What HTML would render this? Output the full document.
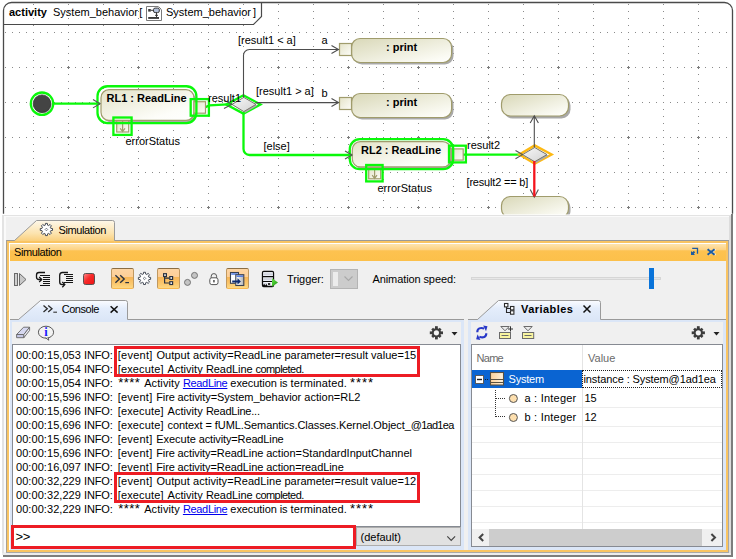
<!DOCTYPE html>
<html>
<head>
<meta charset="utf-8">
<title>Simulation</title>
<style>
html,body{margin:0;padding:0;background:#fff;}
body{width:736px;height:559px;position:relative;overflow:hidden;font-family:"Liberation Sans",sans-serif;font-size:11px;color:#000;}
#diagram{position:absolute;left:0;top:0;width:736px;height:215px;display:block;}
#diagram text{font-family:"Liberation Sans",sans-serif;font-size:11px;fill:#000;}
.abs{position:absolute;}
</style>
</head>
<body>
<!-- ================= DIAGRAM ================= -->
<svg id="diagram" width="736" height="215" viewBox="0 0 736 215">
  <defs>
    <pattern id="grid" x="33" y="32" width="35" height="35" patternUnits="userSpaceOnUse">
      <g fill="#8a8a8a">
        <rect x="0" y="0" width="1" height="1"/><rect x="7" y="0" width="1" height="1"/><rect x="14" y="0" width="1" height="1"/><rect x="21" y="0" width="1" height="1"/><rect x="28" y="0" width="1" height="1"/>
        <rect x="0" y="7" width="1" height="1"/><rect x="0" y="14" width="1" height="1"/><rect x="0" y="21" width="1" height="1"/><rect x="0" y="28" width="1" height="1"/>
      </g>
    </pattern>
    <pattern id="cross" x="33" y="32" width="70" height="70" patternUnits="userSpaceOnUse">
      <g fill="#7a7a7a">
        <rect x="34" y="35" width="3" height="1"/><rect x="35" y="34" width="1" height="3"/>
      </g>
    </pattern>
    <clipPath id="frameclip"><path d="M4 214V10.500000000000002A7 7 0 0 1 11 3.5H725A7 7 0 0 1 732 10.5V214Z"/></clipPath>
    <linearGradient id="gnode" x1="0" y1="0" x2="1" y2="1">
      <stop offset="0" stop-color="#e4e3c8"/><stop offset="0.75" stop-color="#fdfdf9"/><stop offset="1" stop-color="#ffffff"/>
    </linearGradient>
    <linearGradient id="gprint" x1="0" y1="0" x2="1" y2="1">
      <stop offset="0" stop-color="#d9d8b8"/><stop offset="0.85" stop-color="#fbfbf4"/><stop offset="1" stop-color="#ffffff"/>
    </linearGradient>
    <linearGradient id="gpin" x1="0" y1="0" x2="1" y2="1">
      <stop offset="0" stop-color="#e4e3c8"/><stop offset="1" stop-color="#fdfdf9"/>
    </linearGradient>
    <linearGradient id="gdia" x1="0" y1="0" x2="1" y2="1">
      <stop offset="0" stop-color="#f8f8f8"/><stop offset="1" stop-color="#d2d2d2"/>
    </linearGradient>
  </defs>
  <rect x="0" y="0" width="736" height="215" fill="#fff"/>
  <g clip-path="url(#frameclip)">
    <rect x="0" y="0" width="736" height="214.4" fill="url(#grid)"/>
    <rect x="0" y="0" width="736" height="214" fill="url(#cross)"/>
  </g>
  <!-- frame -->
  <path d="M3.5 213.8V10.5A8 8 0 0 1 11.500000000000002 2.5H724.5A8 8 0 0 1 732.5 10.5V213.8" fill="none" stroke="#4a4a4a" stroke-width="1.3"/>
  <path d="M3.5 24.5H253.5L261.5 16.5V2.5" fill="none" stroke="#4a4a4a" stroke-width="1.2"/>
  <!-- header text -->
  <text x="9" y="15.8" font-weight="bold">activity</text>
  <text x="53" y="15.8">System_behavior</text>
  <text x="139.3" y="15.5">[</text>
  <g id="hdricon" transform="translate(146,6)">
    <path d="M0.5 0.500000000000001H12.5L15.5 3.500000000000001V14.5H0.5Z" fill="#fff" stroke="#7a7a7a" stroke-width="1"/>
    <path d="M12.5 0.500000000000001V3.500000000000001H15.5" fill="none" stroke="#c8c8c8" stroke-width="0.8"/>
    <rect x="2.2" y="3" width="2.6" height="2.6" fill="#3a3a3a"/>
    <path d="M4.8 4.3H7.5" stroke="#3a3a3a" stroke-width="1"/>
    <rect x="7.5" y="2.1" width="5.8" height="4.5" rx="1.6" fill="#b4c2dc" stroke="#3a3a3a" stroke-width="1"/>
    <path d="M10.5 6.6V11M9 9.300000000000001H12" stroke="#3a3a3a" stroke-width="1" fill="none"/>
    <rect x="2.2" y="11" width="10.8" height="1.9" fill="#3a3a3a"/>
  </g>
  <text x="166" y="15.8">System_behavior</text>
  <text x="253" y="15.5">]</text>

  <!-- ===== edges ===== -->
  <g fill="none" stroke="#0af80a" stroke-width="2.3">
    <path d="M54 103.7H100"/>
    <path d="M204.5 107.6L209.500000 105.3L232 104.2"/>
    <path d="M243.5 112V149A6 6 0 0 0 249.5 155H352"/>
    <path d="M463 154.6H523"/>
  </g>
  <!-- ===== initial node ===== -->
  <circle cx="42" cy="103.7" r="11.2" fill="#fff" stroke="#0af80a" stroke-width="2.3"/>
  <circle cx="43" cy="104.7" r="8.6" fill="#aaa"/>
  <circle cx="42" cy="103.7" r="8.8" fill="#444" stroke="#333" stroke-width="0.8"/>

  <!-- ===== RL1 ===== -->
  <rect x="103" y="92" width="93" height="30.3" rx="8" fill="#a9a9a9"/>
  <rect x="101" y="89.7" width="93" height="30.6" rx="8" fill="url(#gnode)" stroke="#a09c6c" stroke-width="1.2"/>
  <text x="106.5" y="101.6" font-weight="bold">RL1 : ReadLine</text>
  <rect x="194" y="101.7" width="11.5" height="11.5" fill="url(#gpin)" stroke="#a09c6c" stroke-width="1.2"/>
  <rect x="116.7" y="121" width="12" height="11" fill="url(#gpin)" stroke="#a09c6c" stroke-width="1.2"/>
  <path d="M122.6 121V131.5M120.2 128.3L122.600000 131.6L125 128.3" fill="none" stroke="#a09c6c" stroke-width="1.2"/>
  <rect x="97.5" y="86.25" width="98.9" height="36.85" rx="10" fill="none" stroke="#0af80a" stroke-width="2.3"/>
  <rect x="190.7" y="99.1" width="18.2" height="16.6" fill="none" stroke="#0af80a" stroke-width="2.3"/>
  <rect x="113.4" y="117.5" width="18.2" height="17.4" fill="none" stroke="#0af80a" stroke-width="2.3"/>
  <text x="125.5" y="144.5">errorStatus</text>

  <!-- ===== diamond 1 ===== -->
  <path d="M226.3 104.4L243.4 95.3L260.5 104.4L243.4 113.6Z" fill="none" stroke="#0af80a" stroke-width="2.3" stroke-linejoin="miter"/>
  <path d="M233.5 105.6L245.300000 98.5L257.5 105.6L245.3 112.8Z" fill="#aaa"/>
  <path d="M232 104.4L243.8 97.4L256 104.4L243.8 111.6Z" fill="url(#gdia)" stroke="#77756a" stroke-width="1"/>

  <text x="238" y="43.9">[result1 &lt; a]</text>
  <text x="321.5" y="43.5">a</text>
  <text x="256" y="94.8">[result1 &gt; a]</text>
  <text x="321.5" y="96.7">b</text>
  <text x="263.5" y="150">[else]</text>

  <!-- ===== print a ===== -->
  <rect x="353.5" y="40.5" width="100" height="24" rx="8.5" fill="#a9a9a9"/>
  <rect x="351.6" y="38.5" width="100" height="24" rx="8.5" fill="url(#gprint)" stroke="#a09c6c" stroke-width="1.2"/>
  <rect x="339.5" y="43.5" width="12" height="12" fill="url(#gpin)" stroke="#a09c6c" stroke-width="1.2"/>
  <text x="386" y="51.2" font-weight="bold">: print</text>
  <!-- ===== print b ===== -->
  <rect x="353.5" y="95.5" width="100" height="24" rx="8.5" fill="#a9a9a9"/>
  <rect x="351.6" y="93.5" width="100" height="24" rx="8.5" fill="url(#gprint)" stroke="#a09c6c" stroke-width="1.2"/>
  <rect x="339.5" y="97.5" width="12" height="12" fill="url(#gpin)" stroke="#a09c6c" stroke-width="1.2"/>
  <text x="386" y="106.2" font-weight="bold">: print</text>

  <!-- ===== RL2 ===== -->
  <rect x="354.3" y="144" width="98.5" height="25.2" rx="8" fill="#a9a9a9"/>
  <rect x="352.3" y="141.7" width="98.5" height="25.2" rx="8" fill="url(#gnode)" stroke="#a09c6c" stroke-width="1.2"/>
  <text x="361" y="154" font-weight="bold">RL2 : ReadLine</text>
  <rect x="452" y="148.9" width="11.2" height="11.2" fill="url(#gpin)" stroke="#a09c6c" stroke-width="1.2"/>
  <rect x="368.7" y="167.8" width="12" height="11" fill="url(#gpin)" stroke="#a09c6c" stroke-width="1.2"/>
  <path d="M374.6 168V178.3M372.2 175.1L374.6 178.4L377 175.1" fill="none" stroke="#a09c6c" stroke-width="1.2"/>
  <rect x="349.8" y="139.2" width="103.4" height="30" rx="10" fill="none" stroke="#0af80a" stroke-width="2.3"/>
  <rect x="449" y="145.7" width="16.9" height="16.7" fill="none" stroke="#0af80a" stroke-width="2.3"/>
  <rect x="366.2" y="165" width="16.4" height="16.4" fill="none" stroke="#0af80a" stroke-width="2.3"/>
  <text x="377.5" y="192">errorStatus</text>
  <text x="467" y="149">result2</text>
  <text x="466.5" y="186" letter-spacing="-0.18">[result2 == b]</text>

  <!-- ===== boxes right ===== -->
  <rect x="503.5" y="96.5" width="67" height="22" rx="9" fill="#a9a9a9"/>
  <rect x="501.5" y="94.5" width="67" height="21.5" rx="9" fill="url(#gprint)" stroke="#a09c6c" stroke-width="1.2"/>
  <rect x="503.5" y="198.5" width="67" height="21.5" rx="9" fill="#a9a9a9"/>
  <rect x="501.5" y="196.5" width="67" height="21.5" rx="9" fill="url(#gprint)" stroke="#a09c6c" stroke-width="1.2"/>

  <!-- ===== diamond 2 ===== -->
  <path d="M519.3 154.6L534.7 145.4L551.7 154.6L534.7 163.8Z" fill="none" stroke="#fdb913" stroke-width="2.3"/>
  <path d="M524 155.8L536.2 148.7L548.5 155.8L536.2 162.9Z" fill="#aaa"/>
  <path d="M522.5 154.6L534.7 147.500000L547 154.6L534.7 161.7Z" fill="url(#gdia)" stroke="#77756a" stroke-width="1"/>
  <!-- gray edges on top -->
  <g fill="none" stroke="#4d4d4d" stroke-width="1.1">
    <path d="M243.5 97.5V56A6 6 0 0 1 249.5 49.500000000000006H338.5"/>
    <path d="M331.5 45.5L338.5 49.500000000000006L331.5 53.5"/>
    <path d="M255.5 102.6H338.5"/>
    <path d="M331.5 98.6L338.5 102.6L331.5 106.6"/>
    <path d="M534.3 147.5V116"/>
    <path d="M530.2 123L534.3 115.800000L538.4 123"/>
  </g>
  <g fill="none" stroke="#555" stroke-width="1.1">
    <path d="M93 99.5L100 103.7L93 107.9"/>
    <path d="M224.5 100.5L232 104.2L224 108.4"/>
    <path d="M345 151L352 155L345 159"/>
    <path d="M515.5 150.5L522.5 154.6L515.5 158.7"/>
    <path d="M530.2 189.5L534.3 197L538.4 189.5"/>
  </g>

  <text x="208" y="102">result1</text>
  <path d="M534.3 161V196.5" fill="none" stroke="#f5141c" stroke-width="2.3"/>
  <!-- cover bottom strip -->
  <rect x="0" y="214.4" width="736" height="1" fill="#fff"/>
  
</svg>

<!-- ================= PANEL ================= -->
<div id="panel">
<style>
#panel{position:absolute;left:0;top:0;width:736px;height:559px;pointer-events:none;}
#panel div,#panel span,#panel svg{position:absolute;}
.t{white-space:nowrap;font-size:11px;line-height:14px;height:14px;}
.ln{left:16px;white-space:nowrap;font-size:11px;line-height:14px;height:14px;letter-spacing:-0.12px;}
.ln span{position:static !important;}
.ln .lk{color:#0000ee;text-decoration:underline;}
#panel .sg{white-space:pre;font-size:11px;line-height:14px;height:14px;}
#panel .sg.lk{color:#0000ee;text-decoration:underline;}
.tog{border:1px solid;border-color:#8c6e44 #c09860 #f9b84e #c09860;border-radius:2px;background:linear-gradient(#fdd4a2 0%,#fdcf98 40%,#f7b657 43%,#fbc66c 75%,#fdd882 100%);box-sizing:border-box;}
</style>
<!-- panel background & bevel -->
<div style="left:2px;top:215px;width:731px;height:340px;background:#f0f0f0;"></div>
<div style="left:2px;top:215px;width:729px;height:1px;background:#e3e3e3;"></div>
<div style="left:2px;top:215px;width:2px;height:338px;background:#e3e3e3;"></div>
<div style="left:4px;top:216px;width:725px;height:1px;background:#fafafa;"></div>
<div style="left:4px;top:216px;width:2px;height:336px;background:#fafafa;"></div>
<div style="left:729px;top:216px;width:2px;height:338px;background:#dcdcdc;"></div>
<div style="left:731px;top:214px;width:2px;height:343px;background:#7d7d7d;"></div>
<div style="left:733px;top:214px;width:3px;height:345px;background:#fff;"></div>

<div style="left:2px;top:553px;width:729px;height:2px;background:#ececec;"></div>
<div style="left:3px;top:555px;width:730px;height:2px;background:#7d7d7d;"></div>
<div style="left:0;top:557px;width:736px;height:2px;background:#fff;"></div>

<!-- orange frame -->
<div style="left:6px;top:240px;width:723px;height:313px;background:#a8a8a8;"></div><div style="left:7px;top:241px;width:721px;height:311px;background:#f9c462;"></div>
<div style="left:6px;top:240px;width:723px;height:1px;background:#9a9a9a;"></div>
<div style="left:6px;top:240px;width:1px;height:312px;background:#a8a090;"></div>
<div style="left:9px;top:243px;width:717px;height:307px;background:#fff;"></div>
<div style="left:10px;top:244px;width:716px;height:306px;background:#f0f0f0;"></div>
<!-- title bar -->
<div style="left:10px;top:244px;width:716px;height:17px;background:linear-gradient(#fee4ae 0%,#fdd282 34%,#fdc250 40%,#fcc04a 100%);"></div>
<div class="t" id="ttl" style="left:14px;top:245px;letter-spacing:-0.4px;">Simulation</div>
<!-- title buttons -->
<svg style="left:688px;top:246px;" width="28" height="12" viewBox="0 0 28 12">
  <path d="M4.2 2.400000000000001H9.5V7.700000000000001" fill="none" stroke="#1c5aa0" stroke-width="1.3"/>
  <path d="M3 9V5L4.3 6.300000000000001L5.8 4.900000000000001L7.2 6.300000000000001L5.8 7.700000000000001L7 9Z" fill="#1c5aa0"/>
  <path d="M20.500000 3.3L27.6 8.8M27.6 3.3L20.5 8.8" stroke="#ffffff" stroke-width="1.6" fill="none" opacity="0.8"/>
  <path d="M19.6 3.3L26.6 8.8M26.6 3.3L19.6 8.8" stroke="#1c5aa0" stroke-width="2" fill="none"/>
</svg>

<!-- main tab -->
<svg style="left:10px;top:218px;" width="110" height="27" viewBox="10 218 110 27">
  <defs><linearGradient id="gtab" x1="0" y1="0" x2="0" y2="1"><stop offset="0" stop-color="#fef8ea"/><stop offset="0.55" stop-color="#fce3ae"/><stop offset="1" stop-color="#f9c768"/></linearGradient></defs>
  <path d="M14.5 240.5L36.5 220.5H112.5Q114.5 220.5 114.5 222.5V240.5V244H10V240.5Z" fill="url(#gtab)"/>
  <path d="M10 240.5H14.5L36.5 220.5H112.5Q114.5 220.5 114.5 222.5V240.5" fill="none" stroke="#9a9a9a" stroke-width="1"/>
  <path d="M10 241H114V243H10Z" fill="#f9c462"/><path d="M10 243H115V244H10Z" fill="#fff"/>
  <g transform="translate(46.4,229.5)"><path d="M-1.16 -4.35L-0.97 -6.12L0.97 -6.12L1.16 -4.35L2.25 -3.90L3.64 -5.02L5.02 -3.64L3.90 -2.25L4.35 -1.16L6.12 -0.97L6.12 0.97L4.35 1.16L3.90 2.25L5.02 3.64L3.64 5.02L2.25 3.90L1.16 4.35L0.97 6.12L-0.97 6.12L-1.16 4.35L-2.25 3.90L-3.64 5.02L-5.02 3.64L-3.90 2.25L-4.35 1.16L-6.12 0.97L-6.12 -0.97L-4.35 -1.16L-3.90 -2.25L-5.02 -3.64L-3.64 -5.02L-2.25 -3.90Z" fill="#fff" stroke="#444a56" stroke-width="1" stroke-linejoin="miter"/><path d="M0 -1.3L1.3 0L0 1.3L-1.3 0Z" fill="none" stroke="#444a56" stroke-width="0.7"/></g>
</svg>
<div class="t" id="tabt" style="left:58.5px;top:223px;letter-spacing:-0.4px;">Simulation</div>

<!-- toolbar icons -->
<svg style="left:10px;top:262px;" width="360" height="32" viewBox="10 262 360 32">
  <!-- resume -->
  <rect x="14.5" y="273.5" width="3" height="12" fill="#d0d0d0" stroke="#6a6a6a" stroke-width="1"/>
  <path d="M19.5 273.5L26 279.5L19.5 285.5Z" fill="#c8c8c8" stroke="#6a6a6a" stroke-width="1"/>
  <!-- step into -->
  <g stroke="#151515" stroke-width="1.1" fill="none">
    <path d="M40 275.5H50M43 277.5H50M43 279.5H50M43 281.5H50M43 283.5H50M40 285.5H50"/>
    <path d="M45 272.5H39Q36.5 272.5 36.5 275V277Q36.5 279.5 39 279.5H41.5" stroke-width="1.3"/>
    <path d="M39.2 277L41.7 279.5L39.2 282" stroke-width="1.3"/>
  </g>
  <!-- step over -->
  <g stroke="#151515" stroke-width="1.1" fill="none">
    <path d="M64 274.5H73M66 276.5H73M66 278.5H73M66 280.5H73M64 282.5H73"/>
    <path d="M68 272.5H62.5Q59.7 272.5 59.7 275.500000V282Q59.7 284.6 62.3 284.6H64.5" stroke-width="1.3"/>
    <path d="M62.3 282L64.8 284.6L62.3 287.2" stroke-width="1.3"/>
  </g>
  <!-- stop -->
  <defs><linearGradient id="gstop" x1="0" y1="0" x2="1" y2="1"><stop offset="0" stop-color="#ff8a8a"/><stop offset="0.45" stop-color="#f62a2a"/><stop offset="1" stop-color="#ee1010"/></linearGradient></defs>
  <rect x="83.5" y="273.5" width="11" height="11" rx="2" fill="url(#gstop)" stroke="#5a5050" stroke-width="1"/>
</svg>
<div class="tog" style="left:111px;top:268px;width:23px;height:21px;"></div>
<div class="tog" style="left:157px;top:268px;width:23px;height:21px;"></div>
<div class="tog" style="left:226px;top:268px;width:23px;height:21px;"></div>
<svg style="left:110px;top:262px;" width="260" height="32" viewBox="110 262 260 32">
  <!-- >>_ -->
  <path d="M115.4 275.2L119.4 279L115.4 282.8M120.2 275.2L124.2 279L120.2 282.8" stroke="#2a3240" stroke-width="1.4" fill="none"/>
  <path d="M125.3 282.6H129" stroke="#2a3240" stroke-width="1.2"/>
  <!-- gear -->
  <g transform="translate(144.5,278.4)"><path d="M-1.16 -4.35L-0.97 -6.12L0.97 -6.12L1.16 -4.35L2.25 -3.90L3.64 -5.02L5.02 -3.64L3.90 -2.25L4.35 -1.16L6.12 -0.97L6.12 0.97L4.35 1.16L3.90 2.25L5.02 3.64L3.64 5.02L2.25 3.90L1.16 4.35L0.97 6.12L-0.97 6.12L-1.16 4.35L-2.25 3.90L-3.64 5.02L-5.02 3.64L-3.90 2.25L-4.35 1.16L-6.12 0.97L-6.12 -0.97L-4.35 -1.16L-3.90 -2.25L-5.02 -3.64L-3.64 -5.02L-2.25 -3.90Z" fill="#fff" stroke="#444a56" stroke-width="1" stroke-linejoin="miter"/><path d="M0 -1.3L1.3 0L0 1.3L-1.3 0Z" fill="none" stroke="#444a56" stroke-width="0.7"/></g>
  <!-- tree -->
  <g fill="#fff" stroke="#2a3240" stroke-width="1.2">
    <path d="M164.6 277V283H169.5M164.6 278.1H169.5" fill="none"/>
    <rect x="163.6" y="273.7" width="2.8" height="2.8"/>
    <rect x="169.8" y="276.6" width="2.8" height="2.8"/>
    <rect x="169.8" y="281.7" width="2.8" height="2.8"/>
  </g>
  <!-- dots -->
  <circle cx="194.5" cy="275.4" r="3" fill="#c4c4c4" stroke="#6a6a6a" stroke-width="0.9"/>
  <circle cx="187.5" cy="282.4" r="3" fill="#c4c4c4" stroke="#6a6a6a" stroke-width="0.9"/>
  <!-- lock -->
  <path d="M211.2 278V276.2Q211.2 273.6 213.9 273.6Q216.6 273.6 216.600000 276.2V278" fill="none" stroke="#555" stroke-width="1"/>
  <rect x="209.8" y="277.8" width="8.2" height="6.8" rx="2" fill="#fff" stroke="#555" stroke-width="1"/>
  <rect x="213.3" y="280" width="1.3" height="2.4" fill="#333"/>
  <!-- windows icon -->
  <defs><linearGradient id="gwin" x1="0" y1="0" x2="1" y2="0"><stop offset="0" stop-color="#ffffff"/><stop offset="1" stop-color="#b4b4b4"/></linearGradient></defs>
  <rect x="230.5" y="272.5" width="8" height="10.8" fill="#fff" stroke="#3a4050" stroke-width="1.1"/>
  <rect x="231.2" y="273.2" width="6.6" height="1.6" fill="#5a80e0"/>
  <rect x="235.8" y="274.7" width="8" height="10.8" fill="url(#gwin)" stroke="#3a4050" stroke-width="1.1"/>
  <rect x="236.500000" y="275.4" width="6.6" height="1.6" fill="#5a80e0"/>
  <path d="M232.2 280.4H237.5V278.2L240.9 281.4L237.5 284.6V282.5H232.2Z" fill="#0c2a70"/>
  <!-- server -->
  <defs><linearGradient id="gsrv" x1="0" y1="0" x2="0" y2="1"><stop offset="0" stop-color="#fbfcff"/><stop offset="0.5" stop-color="#c6cad6"/><stop offset="1" stop-color="#f4f6fb"/></linearGradient>
  <linearGradient id="ggrn" x1="0" y1="0" x2="1" y2="1"><stop offset="0" stop-color="#6be84a"/><stop offset="1" stop-color="#15900c"/></linearGradient></defs>
  <rect x="262.5" y="271.5" width="11" height="15" rx="1.2" fill="#f2f4f8" stroke="#0c0c0c" stroke-width="1.3"/>
  <rect x="263.3" y="272.3" width="9.4" height="3.7" fill="url(#gsrv)"/>
  <rect x="263.3" y="277.2" width="9.4" height="3.700000" fill="url(#gsrv)"/>
  <path d="M262.5 276.6H273.5M262.5 281.5H273.5" stroke="#0c0c0c" stroke-width="1.1" fill="none"/>
  <path d="M263 286.300000V285L264.300000 283.8L265.3 285.6L266.3 283.8L267.3 285.6V286.3Z" fill="#0c0c0c"/>
  <path d="M263.300000 283.600000H267.5" stroke="#c6cad6" stroke-width="0.8"/>
  <rect x="268" y="283" width="2.2" height="2" fill="#333"/>
  <path d="M272 278.2L278 282.5L272 286.8Z" fill="url(#ggrn)"/>
</svg>
<div class="t" id="trig" style="left:287px;top:272px;letter-spacing:-0.1px;">Trigger:</div>
<div style="left:330px;top:269px;width:28px;height:20px;box-sizing:border-box;background:#cccccc;border:1px solid #b4b4b4;"></div>
<div style="left:333px;top:272px;width:5px;height:14px;background:#ececec;"></div>
<svg style="left:343px;top:275px;" width="12" height="8" viewBox="0 0 12 8"><path d="M1.5 1.500000000000001L5.5 5.500000000000001L9.5 1.500000000000001" fill="none" stroke="#a8a8a8" stroke-width="1.1"/></svg>
<div class="t" id="anim" style="left:372.5px;top:272px;letter-spacing:-0.1px;">Animation speed:</div>
<div style="left:471px;top:277px;width:190px;height:3px;box-sizing:border-box;background:#e7e7e7;border:1px solid #d6d6d6;"></div>
<div style="left:649px;top:268px;width:5px;height:21px;background:#0a74da;"></div>

<!-- console panel -->
<div style="left:10px;top:319px;width:454px;height:231px;background:#dbe6f7;"></div>
<div style="left:10px;top:319px;width:454px;height:1px;background:#9a9a9a;"></div>
<div style="left:12px;top:322px;width:449px;height:22px;background:#f0f0f0;"></div>
<div style="left:12px;top:344px;width:449px;height:183px;box-sizing:border-box;background:#fff;border:1px solid #868a92;"></div>
<svg style="left:14px;top:296px;" width="120" height="27" viewBox="14 296 120 27">
  <defs><linearGradient id="gtab2" x1="0" y1="0" x2="0" y2="1"><stop offset="0" stop-color="#fbfcff"/><stop offset="0.4" stop-color="#e4edfb"/><stop offset="1" stop-color="#dbe6f7"/></linearGradient></defs>
  <path d="M18.5 319.5L40.5 300.5H125.500000Q127.5 300.5 127.5 302.5V319.5V320H18Z" fill="url(#gtab2)"/>
  <path d="M14 319.5H18.5L40.5 300.5H125.5Q127.5 300.5 127.5 302.5V319.5" fill="none" stroke="#9a9a9a" stroke-width="1"/>
  <path d="M43.5 305.5L47.3 308.800000L43.5 312.1M48.2 305.5L52 308.8L48.2 312.1" stroke="#2a2a2a" stroke-width="1.3" fill="none"/>
  <path d="M53.3 312.2H57" stroke="#333" stroke-width="1.1"/>
  <path d="M110.6 306.2L117.6 312.6M117.6 306.2L110.600000 312.6" stroke="#111" stroke-width="1.5" fill="none"/>
</svg>
<div class="t" id="cons" style="left:61.7px;top:302px;letter-spacing:-0.45px;">Console</div>
<svg style="left:12px;top:322px;" width="449" height="22" viewBox="12 322 449 22">
  <!-- eraser -->
  <path d="M16.6 334.5L23.6 327.2H29.6L23.9 334.5Z" fill="#d6d8f0" stroke="#666" stroke-width="0.9" stroke-linejoin="round"/>
  <path d="M16.6 334.5H23.9V337.7H16.6Z" fill="#c6c8e6" stroke="#666" stroke-width="0.9" stroke-linejoin="round"/>
  <path d="M23.9 334.5L29.6 327.2V330.4L23.9 337.7Z" fill="#ececf6" stroke="#666" stroke-width="0.9" stroke-linejoin="round"/>
  <!-- info -->
  <ellipse cx="46" cy="332.2" rx="7.6" ry="6" fill="#f3f3f3" stroke="#5a5a5a" stroke-width="1"/>
  <path d="M45.5 337.800000L48.8 340.2L48 337" fill="#f3f3f3" stroke="#5a5a5a" stroke-width="1"/>
  <text x="46.100000" y="336.2" text-anchor="middle" font-family="Liberation Serif,serif" font-weight="bold" font-size="12.5" fill="#1c1cff">i</text>
  <!-- gear -->
  <g transform="translate(436.4,332.8)" fill="#3c3c3c">
    <circle r="4.6"/>
    <g id="teeth"><rect x="-1.4" y="-6.6" width="2.8" height="13.2"/><rect x="-6.6" y="-1.4" width="13.2" height="2.8"/>
    <rect x="-1.3" y="-6" width="2.6" height="12" transform="rotate(45)"/><rect x="-1.3" y="-6" width="2.6" height="12" transform="rotate(-45)"/></g>
    <circle r="2.6" fill="#f4f4f4"/>
  </g>
  <path d="M451.5 332L457.5 332L454.5 335.5Z" fill="#222"/>
</svg>
<!--CL-->
<span class="sg" style="left:16.00px;top:348px;letter-spacing:0.062px;">00:00:15,053 </span><span class="sg" style="left:84.10px;top:348px;letter-spacing:-0.161px;">INFO:</span><span class="sg" style="left:117.70px;top:348px;letter-spacing:0.265px;">[event] </span><span class="sg" style="left:156.40px;top:348px;letter-spacing:0.075px;">Output </span><span class="sg" style="left:193.00px;top:348px;letter-spacing:0.072px;">activity=ReadLine </span><span class="sg" style="left:284.50px;top:348px;letter-spacing:-0.001px;">parameter=result </span><span class="sg" style="left:371.00px;top:348px;letter-spacing:0.033px;">value=15</span>
<span class="sg" style="left:16.00px;top:362px;letter-spacing:0.062px;">00:00:15,054 </span><span class="sg" style="left:84.10px;top:362px;letter-spacing:-0.161px;">INFO:</span><span class="sg" style="left:117.70px;top:362px;letter-spacing:0.160px;">[execute] </span><span class="sg" style="left:167.50px;top:362px;letter-spacing:0.055px;">Activity </span><span class="sg" style="left:205.90px;top:362px;letter-spacing:-0.062px;">ReadLine </span><span class="sg" style="left:255.50px;top:362px;letter-spacing:-0.562px;">completed.</span>
<span class="sg" style="left:16.00px;top:376px;letter-spacing:0.062px;">00:00:15,054 </span><span class="sg" style="left:84.10px;top:376px;letter-spacing:-0.161px;">INFO:</span><span class="sg" style="left:118.30px;top:376px;letter-spacing:0.410px;font-size:13px;">**** </span><span class="sg" style="left:144.20px;top:376px;letter-spacing:0.088px;">Activity </span><span class="sg lk" style="left:182.90px;top:376px;letter-spacing:-0.324px;">ReadLine</span><span class="sg" style="left:227.40px;top:376px;letter-spacing:-0.079px;"> execution is </span><span class="sg" style="left:290.50px;top:376px;letter-spacing:0.117px;">terminated. </span><span class="sg" style="left:350.00px;top:376px;letter-spacing:0.920px;font-size:13px;">****</span>
<span class="sg" style="left:16.00px;top:390px;letter-spacing:0.062px;">00:00:15,596 </span><span class="sg" style="left:84.10px;top:390px;letter-spacing:-0.161px;">INFO:</span><span class="sg" style="left:117.70px;top:390px;letter-spacing:0.253px;">[event] </span><span class="sg" style="left:156.30px;top:390px;letter-spacing:-0.160px;">Fire </span><span class="sg" style="left:177.50px;top:390px;letter-spacing:-0.054px;">activity=System_behavior </span><span class="sg" style="left:304.25px;top:390px;letter-spacing:0.031px;">action=RL2</span>
<span class="sg" style="left:16.00px;top:404px;letter-spacing:0.062px;">00:00:15,696 </span><span class="sg" style="left:84.10px;top:404px;letter-spacing:-0.161px;">INFO:</span><span class="sg" style="left:117.70px;top:404px;letter-spacing:0.160px;">[execute] </span><span class="sg" style="left:167.50px;top:404px;letter-spacing:0.055px;">Activity </span><span class="sg" style="left:205.90px;top:404px;letter-spacing:-0.217px;">ReadLine...</span>
<span class="sg" style="left:16.00px;top:418px;letter-spacing:0.062px;">00:00:15,696 </span><span class="sg" style="left:84.10px;top:418px;letter-spacing:-0.161px;">INFO:</span><span class="sg" style="left:117.70px;top:418px;letter-spacing:0.160px;">[execute] </span><span class="sg" style="left:167.50px;top:418px;letter-spacing:-0.073px;">context = fUML.Semantics.Classes.Kernel.Object_</span><span class="sg" style="left:410.75px;top:418px;letter-spacing:-0.729px;">@1ad1ea</span>
<span class="sg" style="left:16.00px;top:432px;letter-spacing:0.062px;">00:00:15,696 </span><span class="sg" style="left:84.10px;top:432px;letter-spacing:-0.161px;">INFO:</span><span class="sg" style="left:117.70px;top:432px;letter-spacing:0.253px;">[event] </span><span class="sg" style="left:156.30px;top:432px;letter-spacing:-0.045px;">Execute </span><span class="sg" style="left:198.75px;top:432px;letter-spacing:-0.134px;">activity=ReadLine</span>
<span class="sg" style="left:16.00px;top:446px;letter-spacing:0.062px;">00:00:15,696 </span><span class="sg" style="left:84.10px;top:446px;letter-spacing:-0.161px;">INFO:</span><span class="sg" style="left:117.70px;top:446px;letter-spacing:0.253px;">[event] </span><span class="sg" style="left:156.30px;top:446px;letter-spacing:-0.160px;">Fire </span><span class="sg" style="left:177.50px;top:446px;letter-spacing:-0.081px;">activity=ReadLine </span><span class="sg" style="left:266.25px;top:446px;letter-spacing:-0.005px;">action=StandardInputChannel</span>
<span class="sg" style="left:16.00px;top:460px;letter-spacing:0.062px;">00:00:16,097 </span><span class="sg" style="left:84.10px;top:460px;letter-spacing:-0.161px;">INFO:</span><span class="sg" style="left:117.70px;top:460px;letter-spacing:0.253px;">[event] </span><span class="sg" style="left:156.30px;top:460px;letter-spacing:-0.160px;">Fire </span><span class="sg" style="left:177.50px;top:460px;letter-spacing:-0.081px;">activity=ReadLine </span><span class="sg" style="left:266.25px;top:460px;letter-spacing:-0.078px;">action=readLine</span>
<span class="sg" style="left:16.00px;top:474px;letter-spacing:0.062px;">00:00:32,229 </span><span class="sg" style="left:84.10px;top:474px;letter-spacing:-0.161px;">INFO:</span><span class="sg" style="left:117.70px;top:474px;letter-spacing:0.265px;">[event] </span><span class="sg" style="left:156.40px;top:474px;letter-spacing:0.075px;">Output </span><span class="sg" style="left:193.00px;top:474px;letter-spacing:0.072px;">activity=ReadLine </span><span class="sg" style="left:284.50px;top:474px;letter-spacing:-0.001px;">parameter=result </span><span class="sg" style="left:371.00px;top:474px;letter-spacing:0.033px;">value=12</span>
<span class="sg" style="left:16.00px;top:488px;letter-spacing:0.062px;">00:00:32,229 </span><span class="sg" style="left:84.10px;top:488px;letter-spacing:-0.161px;">INFO:</span><span class="sg" style="left:117.70px;top:488px;letter-spacing:0.160px;">[execute] </span><span class="sg" style="left:167.50px;top:488px;letter-spacing:0.055px;">Activity </span><span class="sg" style="left:205.90px;top:488px;letter-spacing:-0.062px;">ReadLine </span><span class="sg" style="left:255.50px;top:488px;letter-spacing:-0.562px;">completed.</span>
<span class="sg" style="left:16.00px;top:502px;letter-spacing:0.062px;">00:00:32,229 </span><span class="sg" style="left:84.10px;top:502px;letter-spacing:-0.161px;">INFO:</span><span class="sg" style="left:118.30px;top:502px;letter-spacing:0.410px;font-size:13px;">**** </span><span class="sg" style="left:144.20px;top:502px;letter-spacing:0.088px;">Activity </span><span class="sg lk" style="left:182.90px;top:502px;letter-spacing:-0.324px;">ReadLine</span><span class="sg" style="left:227.40px;top:502px;letter-spacing:-0.079px;"> execution is </span><span class="sg" style="left:290.50px;top:502px;letter-spacing:0.117px;">terminated. </span><span class="sg" style="left:350.00px;top:502px;letter-spacing:0.920px;font-size:13px;">****</span>
<!--/CL-->
<!-- red highlight boxes -->
<div style="left:114px;top:346px;width:306px;height:31px;box-sizing:border-box;border:3px solid #ed1c24;"></div>
<div style="left:114px;top:472px;width:306px;height:31px;box-sizing:border-box;border:3px solid #ed1c24;"></div>
<!-- input row -->
<div style="left:12px;top:527px;width:344px;height:19px;background:#fff;"></div>
<div style="left:356px;top:527px;width:105px;height:19px;box-sizing:border-box;background:#e1e1e1;border:1px solid #adadad;"></div>
<div class="t" id="dflt" style="left:360.5px;top:530px;">(default)</div>
<svg style="left:444px;top:533px;" width="14" height="9" viewBox="0 0 14 9"><path d="M3.3 3.300000000000001L7.2 7.300000000000001L11.1 3.300000000000001" fill="none" stroke="#444" stroke-width="1.2"/></svg>
<div style="left:11px;top:525px;width:345px;height:24px;box-sizing:border-box;border:3px solid #ed1c24;"></div>
<div class="t" id="prompt" style="left:15.5px;top:530px;font-size:13px;letter-spacing:-0.3px;">&gt;&gt;</div>

<!-- variables panel -->
<div style="left:468px;top:319px;width:258px;height:231px;background:#dbe6f7;"></div>
<div style="left:468px;top:319px;width:258px;height:1px;background:#9a9a9a;"></div>
<div style="left:471px;top:322px;width:252px;height:22px;background:#f0f0f0;"></div>
<div style="left:471px;top:344px;width:252px;height:203px;box-sizing:border-box;background:#fff;border:1px solid #868a92;"></div>
<svg style="left:468px;top:296px;" width="140" height="27" viewBox="468 296 140 27">
  <path d="M477.5 319.5L498.5 300.5H598.500000Q600.5 300.5 600.5 302.5V319.5V320H477Z" fill="url(#gtab2)"/>
  <path d="M468 319.5H477.5L498.5 300.5H598.5Q600.5 300.5 600.5 302.5V319.5" fill="none" stroke="#9a9a9a" stroke-width="1"/>
  <g fill="#fff" stroke="#2a2a2a" stroke-width="1.1">
    <path d="M506.500000 307V312.5H510M506.5 308.5H510" fill="none"/>
    <rect x="504.5" y="303.5" width="3.4" height="3.4"/>
    <rect x="510.5" y="306.5" width="3.4" height="3.4"/>
    <rect x="510.5" y="310.800000" width="3.4" height="3.4"/>
  </g>
  <path d="M583.5 305.5L590.5 312.5M590.5 305.5L583.5 312.5" stroke="#111" stroke-width="1.5" fill="none"/>
</svg>
<div class="t" id="varst" style="left:521px;top:302px;font-weight:bold;letter-spacing:0.45px;">Variables</div>
<svg style="left:471px;top:322px;" width="252" height="22" viewBox="471 322 252 22">
  <!-- refresh -->
  <g id="rf1">
    <path d="M477.300000 332.2C477.3 328.2 480.5 327.3 484.2 328.6" fill="none" stroke="#2838c8" stroke-width="2.1"/>
    <path d="M483.2 325.4L487.5 326.2L486 331.2Z" fill="#2838c8"/>
  </g>
  <g transform="rotate(180 481.8 332.7)">
    <path d="M477.3 332.2C477.3 328.2 480.5 327.3 484.2 328.6" fill="none" stroke="#2838c8" stroke-width="2.1"/>
    <path d="M483.2 325.4L487.5 326.2L486 331.2Z" fill="#2838c8"/>
  </g>
  <!-- filter icons -->
  <g stroke="#6a6a6a" stroke-width="1" fill="#f8f4a0">
    <path d="M500.8 326.500000H509.200000L505 330.8Z" fill="#ececec"/>
    <rect x="499.5" y="332.5" width="11" height="6"/>
    <path d="M501.5 335.500000H508.5" fill="none"/>
    <path d="M510.5 326.3V331.5M508 329H513" stroke="#333" fill="none"/>
    <path d="M523.8 326.5H532.2L528 330.8Z" fill="#ececec"/>
    <rect x="522.5" y="332.5" width="11.2" height="6"/>
    <path d="M524.5 335.5H531.5" fill="none"/>
  </g>
  <!-- gear -->
  <g transform="translate(698.3,332.8)" fill="#3c3c3c">
    <circle r="4.6"/>
    <rect x="-1.4" y="-6.6" width="2.8" height="13.2"/><rect x="-6.6" y="-1.4" width="13.2" height="2.8"/>
    <rect x="-1.3" y="-6" width="2.6" height="12" transform="rotate(45)"/><rect x="-1.3" y="-6" width="2.6" height="12" transform="rotate(-45)"/>
    <circle r="2.6" fill="#f4f4f4"/>
  </g>
  <path d="M713.5 332L719.5 332L716.5 335.5Z" fill="#222"/>
</svg>
<!-- table -->
<div class="t" id="hname" style="left:476.5px;top:351px;color:#6a6a6a;letter-spacing:-0.7px;">Name</div>
<div class="t" id="hval" style="left:588px;top:351px;color:#6a6a6a;">Value</div>
<div style="left:472px;top:370px;width:110px;height:18px;background:#0a64d2;"></div>
<div style="left:472px;top:407px;width:250px;height:1px;background:#ededed;"></div><div style="left:472px;top:426px;width:250px;height:1px;background:#ededed;"></div><div style="left:472px;top:442px;width:250px;height:1px;background:#ededed;"></div><div style="left:472px;top:458px;width:250px;height:1px;background:#ededed;"></div><div style="left:472px;top:474px;width:250px;height:1px;background:#ededed;"></div><div style="left:472px;top:490px;width:250px;height:1px;background:#ededed;"></div><div style="left:472px;top:506px;width:250px;height:1px;background:#ededed;"></div><div style="left:472px;top:522px;width:250px;height:1px;background:#ededed;"></div>
<div style="left:582px;top:345px;width:1px;height:184px;background:#e4e4e4;"></div>
<div style="left:582px;top:370px;width:140px;height:18px;box-sizing:border-box;border:1px dotted #222;"></div>
<svg style="left:472px;top:370px;" width="110" height="58" viewBox="472 370 110 58">
  <rect x="475.5" y="375.5" width="8" height="8" fill="#fff" stroke="#5a5a5a" stroke-width="1"/>
  <path d="M477 379.5H482" stroke="#222" stroke-width="1.4"/>
  <path d="M485 379.5H489" stroke="#10203a" stroke-width="1" stroke-dasharray="1 1"/>
  <defs><linearGradient id="gblk" x1="0" y1="0" x2="1" y2="0"><stop offset="0" stop-color="#fbd09a"/><stop offset="1" stop-color="#fef2dc"/></linearGradient></defs><rect x="490.5" y="372.5" width="13" height="12.500000" fill="url(#gblk)" stroke="#5a5040" stroke-width="1.1"/>
  <path d="M490.5 379.5H503.5M490.5 382.5H503.5" stroke="#5a5040" stroke-width="1" fill="none"/>
  <path d="M495.5 390V417" stroke="#333" stroke-width="1" stroke-dasharray="1 1" fill="none"/><path d="M496 398.5H505M496 416.5H505" stroke="#333" stroke-width="1" stroke-dasharray="1 1" fill="none"/>
  <circle cx="513.4" cy="398.5" r="4" fill="#fddfae" stroke="#555" stroke-width="1"/>
  <circle cx="513.4" cy="417.5" r="4" fill="#fddfae" stroke="#555" stroke-width="1"/>
</svg>
<div class="t" id="sys" style="left:508.5px;top:372px;color:#fff;letter-spacing:-0.2px;">System</div>
<div class="t" id="inst" style="left:583.5px;top:372px;letter-spacing:-0.1px;">instance : System@1ad1ea</div>
<div class="t" id="va" style="left:524.5px;top:391px;letter-spacing:0.22px;">a : Integer</div>
<div class="t" id="vb" style="left:524.5px;top:410px;letter-spacing:0.22px;">b : Integer</div>
<div class="t" id="v15" style="left:584.5px;top:391px;">15</div>
<div class="t" id="v12" style="left:584.5px;top:410px;">12</div>
<!-- h scrollbar -->
<div style="left:472px;top:529px;width:250px;height:17px;background:#f0f0f0;"></div>
<div style="left:489px;top:529px;width:213px;height:17px;background:#cdcdcd;"></div>
<svg style="left:472px;top:529px;" width="250" height="17" viewBox="472 529 250 17">
  <path d="M483.2 534L479.6 537.5L483.2 541" fill="none" stroke="#444" stroke-width="2"/>
  <path d="M711.4 534L715 537.5L711.4 541" fill="none" stroke="#444" stroke-width="2"/>
</svg>

</div>
</body>
</html>
